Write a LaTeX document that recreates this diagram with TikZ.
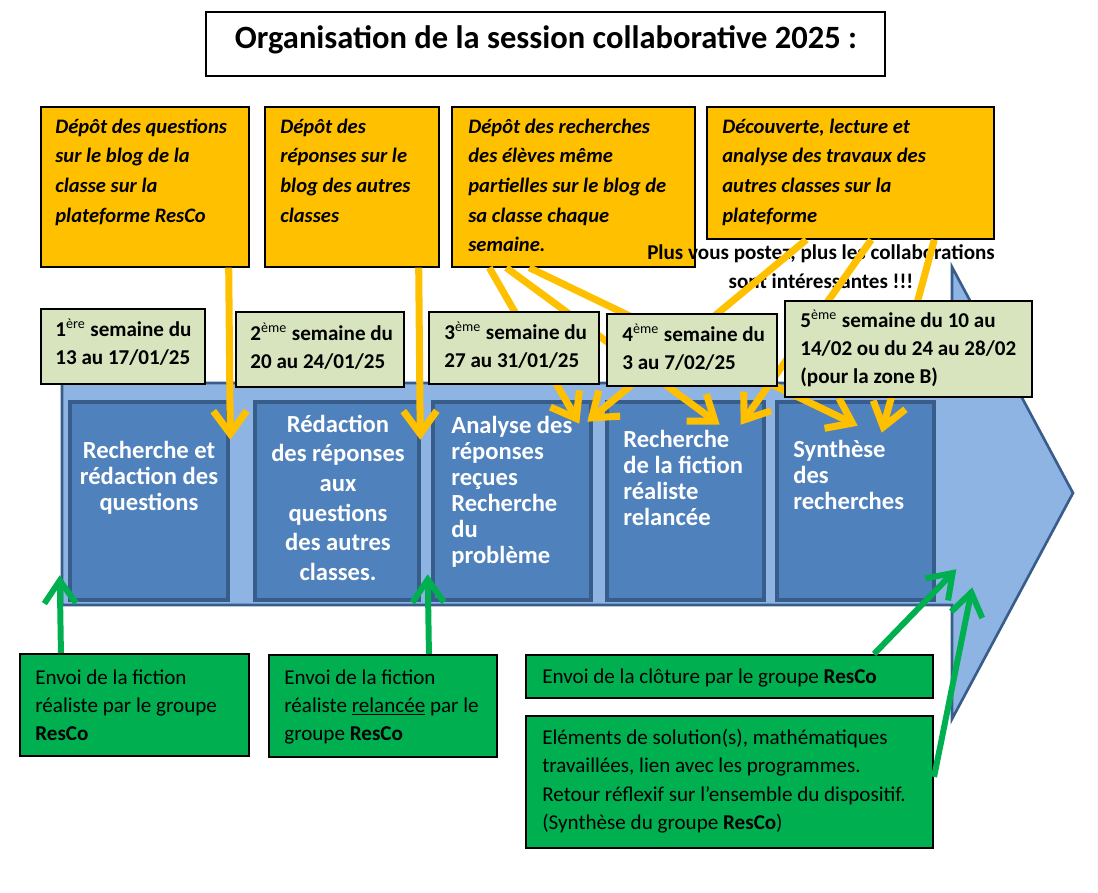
\documentclass[tikz,border=0pt]{standalone}
\usepackage{fontspec}
\setmainfont{Carlito}
\usetikzlibrary{arrows.meta,fit,calc}

\definecolor{depotorange}{HTML}{FFC000}
\definecolor{semainegreen}{HTML}{D7E4BD}
\definecolor{etapeblue}{HTML}{4F81BD}
\definecolor{etapeborder}{HTML}{385D8A}
\definecolor{flecheblue}{HTML}{8EB4E3}
\definecolor{envoigreen}{HTML}{00B050}

\begin{document}
\begin{tikzpicture}[x=0.2mm,y=-0.2mm,
    titre/.style={draw=black,line width=0.6pt,inner sep=0pt},
    titretxt/.style={inner sep=0pt,anchor=base,font=\fontsize{18.5}{22}\selectfont\bfseries},
    fleche/.style={draw=etapeborder,fill=flecheblue,line width=1.5pt,line join=miter},
    etape/.style={draw=etapeborder,fill=etapeblue,line width=2.6pt,inner sep=0pt},
    etapetxt/.style={inner sep=0pt,text width=30mm,text=white,font=\fontsize{14}{14.8}\selectfont\bfseries},
    depot/.style={draw=black,fill=depotorange,line width=0.8pt,inner sep=0pt},
    depottxt/.style={inner sep=0pt,anchor=base west,text width=55mm,align=flush left,font=\fontsize{11.7}{16.9}\selectfont\bfseries\itshape},
    semaine/.style={draw=black,fill=semainegreen,line width=0.8pt,inner sep=0pt},
    semainetxt/.style={inner sep=0pt,anchor=base west,text width=60mm,align=flush left,font=\fontsize{12}{16.3}\selectfont\bfseries},
    envoi/.style={draw=black,fill=envoigreen,line width=1.2pt,inner sep=0pt},
    envoitxt/.style={inner sep=0pt,anchor=base west,text width=80mm,align=flush left,font=\fontsize{12}{16}\selectfont},
    jaune/.style={draw=depotorange,line width=4pt,-{Straight Barb[length=13pt,width=19pt]}},
    vert/.style={draw=envoigreen,line width=3.4pt,-{Straight Barb[length=13pt,width=18pt]}}]
\useasboundingbox (0,0) rectangle (1098,893);

% titre
\node[titre,fit={(206,12)(885,76)}] (titre) {};
\node[titretxt] (titretxt) at (546,48) {Organisation de la session collaborative 2025 :};

% grande fleche
\draw[fleche] (62,383) -- (952,383) -- (952,267) -- (1073,493) -- (952,719) -- (952,605) -- (62,605) -- cycle;

% etapes
\node[etape,fit={(70,402)(228,600)}] (etape1) {};
\node[etape,fit={(255,402)(419,600)}] (etape2) {};
\node[etape,fit={(433,402)(591,600)}] (etape3) {};
\node[etape,fit={(607,402)(764,600)}] (etape4) {};
\node[etape,fit={(777,402)(934,600)}] (etape5) {};
\node[etapetxt,anchor=base,align=flush center] (etape1txt) at (149,458) {Recherche et\\rédaction des\\questions};
\node[etapetxt,anchor=base,align=flush center,font=\fontsize{14}{16.9}\selectfont\bfseries] (etape2txt) at (338,432) {Rédaction\\des réponses\\aux\\questions\\des autres\\classes.};
\node[etapetxt,anchor=base west,align=flush left] (etape3txt) at (451,433) {Analyse des\\réponses\\reçues\\Recherche\\du\\problème};
\node[etapetxt,anchor=base west,align=flush left] (etape4txt) at (623,447) {Recherche\\de la fiction\\réaliste\\relancée};
\node[etapetxt,anchor=base west,align=flush left] (etape5txt) at (793,457) {Synthèse\\des\\recherches};

% depots
\node[depot,fit={(41,107)(249,267)}] (depot1) {};
\node[depot,fit={(265,107)(439,267)}] (depot2) {};
\node[depot,fit={(452,107)(695,267)}] (depot3) {};
\node[depot,fit={(707,107)(994,239)}] (depot4) {};
\node[depottxt] (depot1txt) at (55,133) {Dépôt des questions\\sur le blog de la\\classe sur la\\plateforme ResCo};
\node[depottxt] (depot2txt) at (280,133) {Dépôt des\\réponses sur le\\blog des autres\\classes};
\node[depottxt] (depot3txt) at (468,133) {Dépôt des recherches\\des élèves même\\partielles sur le blog de\\sa classe chaque\\semaine.};
\node[depottxt] (depot4txt) at (722,133) {Découverte, lecture et\\analyse des travaux des\\autres classes sur la\\plateforme};

\node[inner sep=0pt,anchor=base,text width=72mm,align=flush center,font=\fontsize{12}{17}\selectfont\bfseries] (postez) at (821,259) {Plus vous postez, plus les collaborations\\sont intéressantes !!!};

% fleches jaunes
\draw[jaune] ($(depot1.south east)+(-21,0)$) -- ($(etape1.north east)+(0,40)$);
\draw[jaune] ($(depot2.south east)+(-21,0)$) -- ($(etape2.north east)+(-1,40)$);
\draw[jaune] ($(depot3.south west)+(38,0)$) -- ($(etape3.north east)+(-14,24)$);
\draw[jaune] ($(depot3.south west)+(55,0)$) -- ($(etape4.north west)+(115,25)$);
\draw[jaune] ($(depot3.south west)+(78,0)$) -- ($(etape5.north west)+(83,26)$);
\draw[jaune] ($(depot4.south west)+(100,0)$) -- ($(etape3.north east)+(-6,22)$);
\draw[jaune] ($(depot4.south west)+(165,0)$) -- ($(etape4.north west)+(136,25)$);
\draw[jaune] ($(depot4.south west)+(228,0)$) -- ($(etape5.north west)+(107,33)$);

% semaines
\node[semaine,fit={(41,309)(205,384)}] (semaine1) {};
\node[semaine,fit={(236,312)(404,387)}] (semaine2) {};
\node[semaine,fit={(429,312)(599,384)}] (semaine3) {};
\node[semaine,fit={(607,314)(777,386)}] (semaine4) {};
\node[semaine,fit={(785,301)(1032,397)}] (semaine5) {};
\node[semainetxt] (semaine1txt) at (55,336) {1\textsuperscript{\mdseries ère} semaine du\\13 au 17/01/25};
\node[semainetxt] (semaine2txt) at (250,340) {2\textsuperscript{\mdseries ème} semaine du\\20 au 24/01/25};
\node[semainetxt] (semaine3txt) at (444,339) {3\textsuperscript{\mdseries ème} semaine du\\27 au 31/01/25};
\node[semainetxt] (semaine4txt) at (622,341) {4\textsuperscript{\mdseries ème} semaine du\\3 au 7/02/25};
\node[semainetxt,font=\fontsize{12}{16.2}\selectfont\bfseries] (semaine5txt) at (800,327) {5\textsuperscript{\mdseries ème} semaine du 10 au\\14/02 ou du 24 au 28/02\\(pour la zone B)};

% envois
\node[envoi,fit={(20,654)(249,756)}] (envoi1) {};
\node[envoi,fit={(269,655)(497,757)}] (envoi2) {};
\node[envoi,fit={(526,655)(933,698)}] (envoi3) {};
\node[envoi,fit={(526,716)(933,848)}] (envoi4) {};
\node[envoitxt] (envoi1txt) at (35,684) {Envoi de la fiction\\réaliste par le groupe\\\textbf{ResCo}};
\node[envoitxt] (envoi2txt) at (284,684) {Envoi de la fiction\\réaliste \underline{relancée} par le\\groupe \textbf{ResCo}};
\node[envoitxt] (envoi3txt) at (542,683) {Envoi de la clôture par le groupe \textbf{ResCo}};
\node[envoitxt,font=\fontsize{12}{16.3}\selectfont] (envoi4txt) at (542,744) {Eléments de solution(s), mathématiques\\travaillées, lien avec les programmes.\\Retour réflexif sur l’ensemble du dispositif.\\(Synthèse du groupe \textbf{ResCo})};

% fleches vertes
\draw[vert] ($(envoi1.north west)+(42,0)$) -- ($(etape1.south west)+(-8,-27)$);
\draw[vert] ($(envoi2.north west)+(161,0)$) -- ($(etape3.south west)+(-3,-28)$);
\draw[vert] ($(envoi3.north east)+(-60,0)$) -- ($(etape5.south east)+(20,-33)$);
\draw[vert] ($(envoi4.north east)+(0,62)$) -- ($(etape5.south east)+(36,-15)$);
\end{tikzpicture}
\end{document}
